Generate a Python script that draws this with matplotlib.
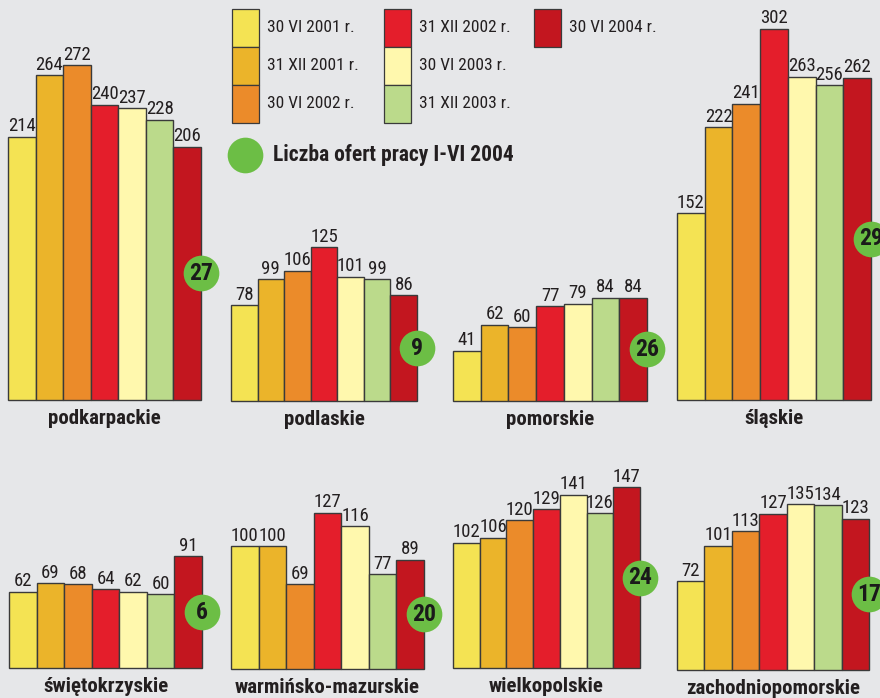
import matplotlib.pyplot as plt
from matplotlib.patches import Rectangle

# data
regions = ["podkarpackie", "podlaskie", "pomorskie", "śląskie",
           "świętokrzyskie", "warmińsko-mazurskie", "wielkopolskie", "zachodniopomorskie"]
series_labels = ["30 VI 2001 r.", "31 XII 2001 r.", "30 VI 2002 r.", "31 XII 2002 r.",
                 "30 VI 2003 r.", "31 XII 2003 r.", "30 VI 2004 r."]
vi_2001 = [214, 78, 41, 152, 62, 100, 102, 72]
xii_2001 = [264, 99, 62, 222, 69, 100, 106, 101]
vi_2002 = [272, 106, 60, 241, 68, 69, 120, 113]
xii_2002 = [240, 125, 77, 302, 64, 127, 129, 127]
vi_2003 = [237, 101, 79, 263, 62, 116, 141, 135]
xii_2003 = [228, 99, 84, 256, 60, 77, 126, 134]
vi_2004 = [206, 86, 84, 262, 91, 89, 147, 123]
job_offers = [27, 9, 26, 29, 6, 20, 24, 17]
offers_label = "Liczba ofert pracy I-VI 2004"

series = [vi_2001, xii_2001, vi_2002, xii_2002, vi_2003, xii_2003, vi_2004]
colors = ["#f4e353", "#ebb42a", "#eb8b2a", "#e41e2b", "#fff8ad", "#bbda8b", "#c3161f"]
green = "#6cbe45"
bg = "#e6e7e9"
edge = "#3a3a3a"
ink = "#231f20"

NARROW = ["Roboto Condensed", "Roboto", "DejaVu Sans"]

W, H = 880, 698
fig = plt.figure(figsize=(W / 100, H / 100), dpi=100)
fig.patch.set_facecolor(bg)

# panel boxes in pixels: left, right, baseline
boxes = [(8, 201, 400), (231, 417, 401), (453, 647, 401), (677, 871, 400),
         (9, 202, 668), (231, 424, 669), (453, 640, 668), (677, 869, 670)]
px_per_unit = 1.23

for k, region in enumerate(regions):
    x0, x1, base = boxes[k]
    ymax = 320 if k < 4 else 160
    hpx = ymax * px_per_unit
    ax = fig.add_axes([x0 / W, (H - base) / H, (x1 - x0) / W, hpx / H])
    ax.set_xlim(-0.5, 6.5)
    ax.set_ylim(0, ymax)
    ax.axis("off")
    ax.patch.set_alpha(0)
    vals = [s[k] for s in series]
    ax.bar(range(7), vals, width=1.0, color=colors, edgecolor=edge, linewidth=1.0,
           clip_on=False)
    for i, v in enumerate(vals):
        ax.annotate(str(v), (i, v), xytext=(0, 1), textcoords="offset points",
                    ha="center", va="bottom", fontsize=13.5, color=ink,
                    family=NARROW, annotation_clip=False)
    # green circle with number of job offers, at the right edge of the last bar
    ax.scatter([6.5], [vals[-1] / 2], s=660, color=green, zorder=4, clip_on=False,
               linewidths=0)
    ax.text(6.5, vals[-1] / 2, str(job_offers[k]), ha="center", va="center",
            fontsize=17, fontweight="heavy", color="#1a1a1a", zorder=5,
            family=NARROW)
    ax.annotate(region, (3, 0), xytext=(0, -13), textcoords="offset points",
                ha="center", va="center", fontsize=15, fontweight="heavy",
                color=ink, family=NARROW, annotation_clip=False)

# legend drawn in pixel coordinates
lg = fig.add_axes([0, 0, 1, 1])
lg.set_xlim(0, W)
lg.set_ylim(H, 0)
lg.axis("off")
lg.patch.set_alpha(0)
col_x = [232, 384, 534]
row_y = [9, 47, 85]
pw, ph = 27, 38
for j, lab in enumerate(series_labels):
    c, r = divmod(j, 3)
    x, y = col_x[c], row_y[r]
    lg.add_patch(Rectangle((x, y), pw, ph, facecolor=colors[j], edgecolor=edge, lw=0.9))
    lg.text(x + pw + 8, y + ph / 2, lab, ha="left", va="center", fontsize=12.5,
            color=ink, family=NARROW)
lg.scatter([245], [155], s=660, color=green, linewidths=0)
lg.text(273, 155, offers_label, ha="left", va="center", fontsize=15.5,
        fontweight="heavy", color=ink, family=NARROW)

fig.savefig("out.png", dpi=100, facecolor=bg)
